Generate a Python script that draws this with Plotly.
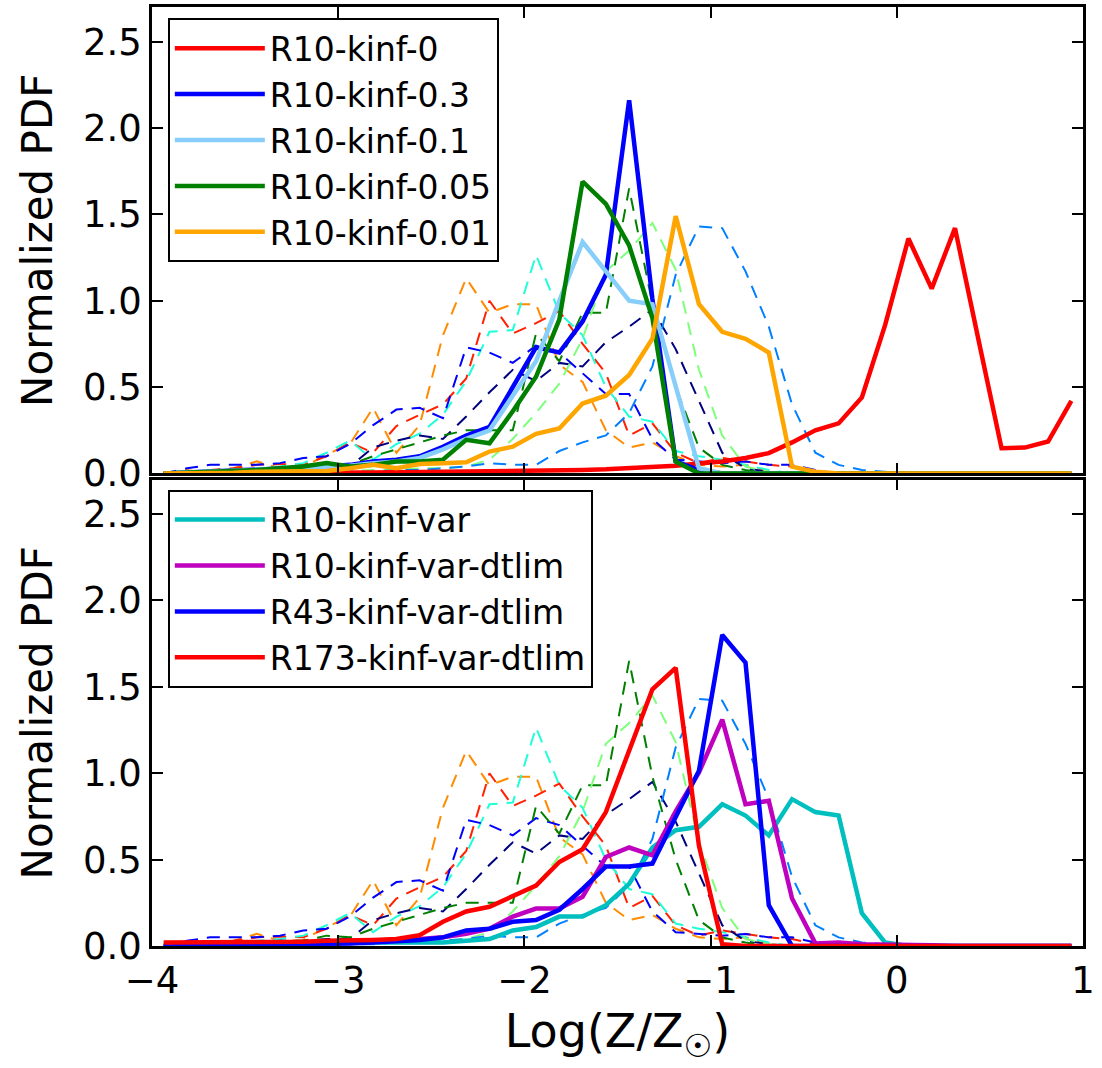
import numpy as np
import plotly.graph_objects as go

# bin centres of log(Z/Zsun): 40 bins of width 0.125 between -4 and 1
x_centers = [-3.9375 + 0.125 * i for i in range(40)]

# ---------------- top panel (solid) ----------------
r10_kinf_0 = [0.0, 0.0, 0.0, 0.0, 0.0, 0.002, 0.003, 0.004, 0.005, 0.006,
              0.007, 0.008, 0.009, 0.01, 0.011, 0.013, 0.015, 0.017, 0.02, 0.024,
              0.03, 0.036, 0.045, 0.058, 0.07, 0.09, 0.118, 0.18, 0.25, 0.29,
              0.44, 0.86, 1.36, 1.07, 1.42, 0.78, 0.146, 0.15, 0.185, 0.42]
r10_kinf_03 = [0.0, 0.005, 0.01, 0.015, 0.02, 0.025, 0.03, 0.04, 0.05, 0.07,
               0.08, 0.10, 0.155, 0.22, 0.27, 0.5, 0.73, 0.70, 0.88, 1.15,
               2.16, 1.01, 0.07, 0.02, 0.0, 0.0, 0.0, 0.0, 0.0, 0.0,
               0.0, 0.0, 0.0, 0.0, 0.0, 0.0, 0.0, 0.0, 0.0, 0.0]
r10_kinf_01 = [0.0, 0.005, 0.01, 0.015, 0.02, 0.025, 0.03, 0.035, 0.045, 0.06,
               0.07, 0.09, 0.14, 0.2, 0.25, 0.45, 0.65, 1.0, 1.34, 1.17,
               1.0, 0.98, 0.5, 0.03, 0.0, 0.0, 0.0, 0.0, 0.0, 0.0,
               0.0, 0.0, 0.0, 0.0, 0.0, 0.0, 0.0, 0.0, 0.0, 0.0]
r10_kinf_005 = [0.0, 0.005, 0.01, 0.01, 0.02, 0.03, 0.04, 0.06, 0.04, 0.05,
                0.07, 0.07, 0.08, 0.195, 0.175, 0.36, 0.56, 0.89, 1.69, 1.56,
                1.32, 0.90, 0.07, 0.0, 0.0, 0.0, 0.0, 0.0, 0.0, 0.0,
                0.0, 0.0, 0.0, 0.0, 0.0, 0.0, 0.0, 0.0, 0.0, 0.0]
r10_kinf_001 = [0.0, 0.0, 0.005, 0.005, 0.01, 0.01, 0.01, 0.015, 0.03, 0.05,
                0.03, 0.055, 0.06, 0.065, 0.127, 0.155, 0.23, 0.26, 0.405, 0.45,
                0.57, 0.78, 1.49, 0.98, 0.82, 0.78, 0.70, 0.04, 0.01, 0.0,
                0.0, 0.0, 0.0, 0.0, 0.0, 0.0, 0.0, 0.0, 0.0, 0.0]

# ---------------- bottom panel (solid) ----------------
r10_kinf_var = [0.0, 0.0, 0.0, 0.005, 0.005, 0.01, 0.01, 0.015, 0.02, 0.02,
                0.025, 0.02, 0.02, 0.03, 0.04, 0.09, 0.11, 0.17, 0.17, 0.236,
                0.36, 0.57, 0.67, 0.69, 0.82, 0.755, 0.64, 0.85, 0.775, 0.755,
                0.19, 0.02, 0.0, 0.0, 0.0, 0.0, 0.0, 0.0, 0.0, 0.0]
r10_kinf_var_dtlim = [0.0, 0.0, 0.0, 0.005, 0.005, 0.01, 0.01, 0.015, 0.02, 0.025,
                      0.03, 0.04, 0.05, 0.07, 0.10, 0.17, 0.217, 0.217, 0.285, 0.515,
                      0.57, 0.525, 0.78, 1.005, 1.31, 0.82, 0.84, 0.275, 0.015, 0.02,
                      0.01, 0.01, 0.01, 0.005, 0.0, 0.0, 0.0, 0.0, 0.0, 0.0]
r43_kinf_var_dtlim = [0.0, 0.0, 0.0, 0.005, 0.005, 0.01, 0.01, 0.01, 0.015, 0.02,
                      0.025, 0.035, 0.05, 0.09, 0.10, 0.14, 0.15, 0.21, 0.33, 0.46,
                      0.46, 0.477, 0.746, 1.015, 1.80, 1.64, 0.236, 0.0, 0.0, 0.0,
                      0.0, 0.0, 0.0, 0.0, 0.0, 0.0, 0.0, 0.0, 0.0, 0.0]
r173_kinf_var_dtlim = [0.02, 0.02, 0.02, 0.02, 0.02, 0.025, 0.025, 0.03, 0.03, 0.035,
                       0.04, 0.063, 0.14, 0.2, 0.227, 0.29, 0.35, 0.486, 0.56, 0.775,
                       1.13, 1.486, 1.61, 0.58, 0.01, 0.0, 0.0, 0.0, 0.0, 0.0,
                       0.0, 0.0, 0.0, 0.0, 0.0, 0.0, 0.0, 0.0, 0.0, 0.0]

# ---------------- reference runs (dashed, both panels) ----------------
ref_darkorange = [0.0, 0.02, 0.0, 0.03, 0.07, 0.03, 0.035, 0.11, 0.17, 0.38,
                  0.12, 0.28, 0.8, 1.13, 0.93, 0.98, 0.98, 0.63, 0.53, 0.25,
                  0.15, 0.18, 0.1, 0.05, 0.04, 0.05, 0.01, 0.0, 0.0, 0.0,
                  0.0, 0.0, 0.0, 0.0, 0.0, 0.0, 0.0, 0.0, 0.0, 0.0]
ref_red = [0.0, 0.01, 0.02, 0.03, 0.05, 0.055, 0.05, 0.1, 0.18, 0.12,
           0.275, 0.34, 0.4, 0.55, 1.0, 0.81, 0.87, 0.94, 0.75, 0.58,
           0.22, 0.29, 0.12, 0.06, 0.09, 0.07, 0.05, 0.04, 0.01, 0.0,
           0.0, 0.0, 0.0, 0.0, 0.0, 0.0, 0.0, 0.0, 0.0, 0.0]
ref_turquoise = [0.0, 0.01, 0.01, 0.02, 0.03, 0.04, 0.06, 0.12, 0.19, 0.08,
                 0.17, 0.23, 0.34, 0.535, 0.82, 0.83, 1.265, 0.93, 0.8, 0.5,
                 0.33, 0.3, 0.13, 0.1, 0.08, 0.05, 0.02, 0.0, 0.0, 0.0,
                 0.0, 0.0, 0.0, 0.0, 0.0, 0.0, 0.0, 0.0, 0.0, 0.0]
ref_blue = [0.0, 0.03, 0.05, 0.05, 0.05, 0.06, 0.09, 0.1, 0.17, 0.28,
            0.37, 0.38, 0.32, 0.73, 0.70, 0.64, 0.74, 0.70, 0.58, 0.46,
            0.46, 0.2, 0.08, 0.07, 0.06, 0.07, 0.05, 0.05, 0.02, 0.0,
            0.0, 0.0, 0.0, 0.0, 0.0, 0.0, 0.0, 0.0, 0.0, 0.0]
ref_navy = [0.0, 0.0, 0.01, 0.01, 0.02, 0.03, 0.03, 0.04, 0.04, 0.15,
            0.19, 0.22, 0.2, 0.33, 0.47, 0.6, 0.535, 0.64, 0.62, 0.76,
            0.85, 0.95, 0.72, 0.42, 0.12, 0.03, 0.01, 0.0, 0.0, 0.0,
            0.0, 0.0, 0.0, 0.0, 0.0, 0.0, 0.0, 0.0, 0.0, 0.0]
ref_green = [0.0, 0.0, 0.01, 0.01, 0.02, 0.02, 0.03, 0.06, 0.05, 0.1,
             0.14, 0.18, 0.22, 0.25, 0.25, 0.25, 0.81, 0.65, 0.93, 0.93,
             1.65, 0.98, 0.5, 0.15, 0.05, 0.02, 0.0, 0.0, 0.0, 0.0,
             0.0, 0.0, 0.0, 0.0, 0.0, 0.0, 0.0, 0.0, 0.0, 0.0]
ref_lightgreen = [0.0, 0.0, 0.0, 0.0, 0.0, 0.005, 0.01, 0.01, 0.015, 0.02,
                  0.02, 0.03, 0.03, 0.04, 0.08, 0.2, 0.35, 0.52, 0.78, 1.17,
                  1.29, 1.45, 1.18, 0.6, 0.22, 0.04, 0.01, 0.0, 0.0, 0.0,
                  0.0, 0.0, 0.0, 0.0, 0.0, 0.0, 0.0, 0.0, 0.0, 0.0]
ref_dodgerblue = [0.0, 0.0, 0.0, 0.0, 0.0, 0.0, 0.0, 0.005, 0.01, 0.01,
                  0.02, 0.02, 0.03, 0.04, 0.06, 0.05, 0.05, 0.13, 0.18, 0.22,
                  0.35, 0.62, 1.15, 1.43, 1.42, 1.17, 0.85, 0.4, 0.12, 0.05,
                  0.02, 0.01, 0.0, 0.0, 0.0, 0.0, 0.0, 0.0, 0.0, 0.0]

x_ticks = [-4, -3, -2, -1, 0, 1]
x_ticktext = ["\u22124", "\u22123", "\u22122", "\u22121", "0", "1"]
y_ticks = [0.0, 0.5, 1.0, 1.5, 2.0, 2.5]
y_ticktext = ["0.0", "0.5", "1.0", "1.5", "2.0", "2.5"]

FONT = "DejaVu Sans"

dashed = [
    (ref_darkorange, "#ff8c00"),
    (ref_red, "#ff2100"),
    (ref_turquoise, "#1effd8"),
    (ref_blue, "#0000ff"),
    (ref_navy, "#000080"),
    (ref_green, "#008000"),
    (ref_lightgreen, "#7dff7a"),
    (ref_dodgerblue, "#0080ff"),
]

top_solid = [
    ("R10-kinf-0", r10_kinf_0, "#ff0000"),
    ("R10-kinf-0.3", r10_kinf_03, "#0000ff"),
    ("R10-kinf-0.1", r10_kinf_01, "#87cefa"),
    ("R10-kinf-0.05", r10_kinf_005, "#008000"),
    ("R10-kinf-0.01", r10_kinf_001, "#ffa500"),
]
bottom_solid = [
    ("R10-kinf-var", r10_kinf_var, "#00bfbf"),
    ("R10-kinf-var-dtlim", r10_kinf_var_dtlim, "#bf00bf"),
    ("R43-kinf-var-dtlim", r43_kinf_var_dtlim, "#0000ff"),
    ("R173-kinf-var-dtlim", r173_kinf_var_dtlim, "#ff0000"),
]

fig = go.Figure()

for xa, ya in (("x", "y"), ("x2", "y2")):
    for vals, col in dashed:
        fig.add_trace(go.Scatter(x=x_centers, y=vals, mode="lines", xaxis=xa, yaxis=ya,
                                 line=dict(color=col, width=2, dash="13px,9px"),
                                 showlegend=False, hoverinfo="skip"))

for i, (name, vals, col) in enumerate(top_solid):
    fig.add_trace(go.Scatter(x=x_centers, y=vals, mode="lines", xaxis="x", yaxis="y",
                             name=name, legend="legend", legendgroup="t%d" % i,
                             line=dict(color=col, width=4.5)))
for i, (name, vals, col) in enumerate(bottom_solid):
    fig.add_trace(go.Scatter(x=x_centers, y=vals, mode="lines", xaxis="x2", yaxis="y2",
                             name=name, legend="legend2", legendgroup="b%d" % i,
                             line=dict(color=col, width=4.5)))

axis_common = dict(showgrid=False, zeroline=False, showline=True, linecolor="black",
                   linewidth=2.5, mirror="allticks", ticks="inside", ticklen=11,
                   tickwidth=1.5, tickcolor="black",
                   tickfont=dict(family=FONT, size=37, color="black"))

legend_common = dict(bgcolor="white", bordercolor="black", borderwidth=2,
                     font=dict(family=FONT, size=33, color="black"),
                     xanchor="left", yanchor="top", tracegroupgap=0,
                     itemwidth=90)

fig.update_layout(
    width=1102, height=1068,
    margin=dict(l=152, r=19, t=4, b=122),
    paper_bgcolor="white", plot_bgcolor="white",
    font=dict(family=FONT, color="black"),
    xaxis=dict(domain=[0, 1], anchor="y", range=[-4, 1], tickvals=x_ticks,
               ticktext=x_ticktext, showticklabels=False, **axis_common),
    xaxis2=dict(domain=[0, 1], anchor="y2", range=[-4, 1], tickvals=x_ticks,
                ticktext=x_ticktext, matches="x",
                title=dict(text="Log(Z/Z<sub>\u2609</sub>)", standoff=14,
                           font=dict(family=FONT, size=46, color="black")),
                **axis_common),
    yaxis=dict(domain=[0.5032, 1], anchor="x", range=[0, 2.7], tickvals=y_ticks,
               ticktext=y_ticktext,
               title=dict(text="Normalized PDF", standoff=18,
                          font=dict(family=FONT, size=42, color="black")),
               **axis_common),
    yaxis2=dict(domain=[0, 0.4968], anchor="x2", range=[0, 2.7], tickvals=y_ticks,
                ticktext=y_ticktext,
                title=dict(text="Normalized PDF", standoff=18,
                           font=dict(family=FONT, size=42, color="black")),
                **axis_common),
    legend=dict(x=0.017, y=0.988, **legend_common),
    legend2=dict(x=0.017, y=0.486, **legend_common),
)

fig.write_html("out.html", config={"displayModeBar": False})
